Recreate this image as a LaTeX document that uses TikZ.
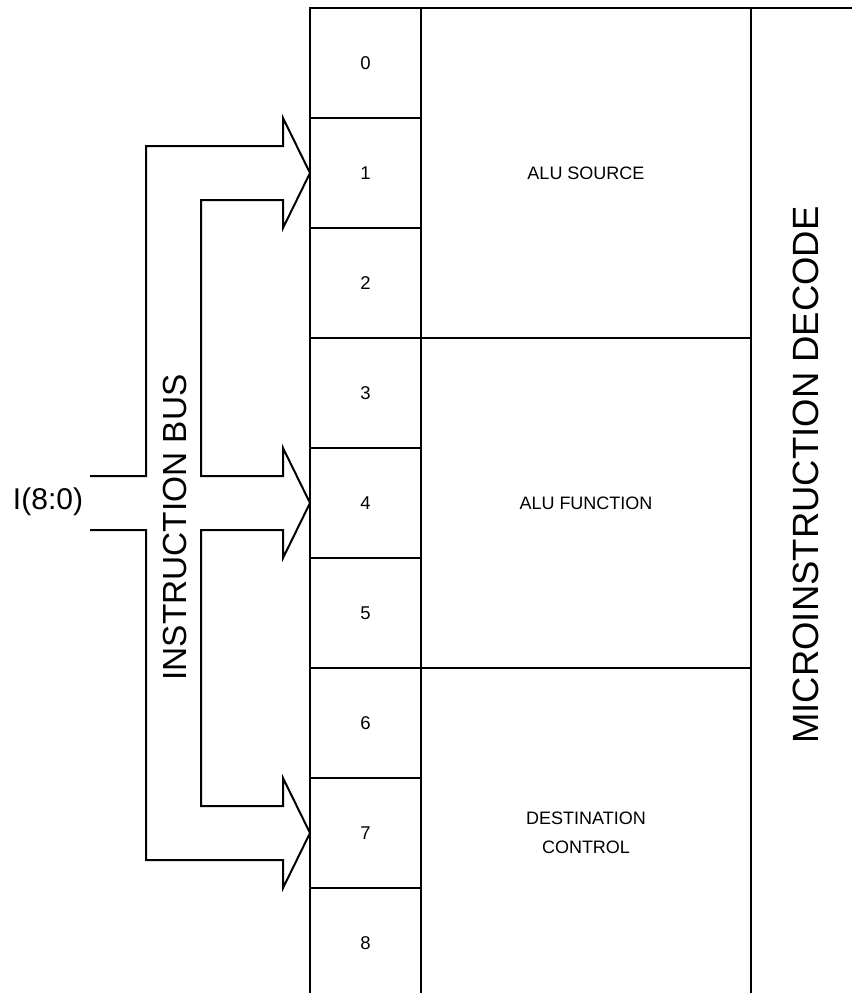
\documentclass[tikz,border=0pt]{standalone}
\usepackage{fontspec}
\setmainfont{Liberation Sans}
\begin{document}
\begin{tikzpicture}[x=1pt,y=-1pt,line width=2pt,
  cell/.style={draw, minimum width=111pt, minimum height=110pt, inner sep=0pt, outer sep=0pt, font=\fontsize{18.5}{22}\selectfont},
  section/.style={draw, minimum width=330pt, minimum height=330pt, inner sep=0pt, outer sep=0pt, align=center, font=\fontsize{18}{29}\selectfont},
  biglabel/.style={inner sep=0pt, font=\fontsize{36.5}{42}\selectfont},
  buslabel/.style={inner sep=0pt, font=\fontsize{33.4}{38}\selectfont},
  bus/.style={draw, line join=miter}]
\useasboundingbox (0,0) rectangle (852,993);
\clip (0,0) rectangle (852,993);
% sections
\node[section] (src) at (586,173) {ALU SOURCE};
\node[section] (fun) at (586,503) {ALU FUNCTION};
\node[section] (dst) at (586,833) {DESTINATION\\CONTROL};
% cells
\foreach \i in {0,...,8}
  \node[cell] (c\i) at (365.5,{63+110*\i}) {\i};
% right column top edge
\coordinate (tl) at (751,8);
\coordinate (tr) at (852,8);
\draw (tl) -- (tr);
\node[biglabel, rotate=90] (mdec) at (806,475) {MICROINSTRUCTION DECODE};
% instruction bus
\draw[bus] (90,476) -- (146,476) -- (146,146) -- (283,146) -- (283,118)
  -- (c1.west) -- (283,228) -- (283,200) -- (201,200) -- (201,476)
  -- (283,476) -- (283,448) -- (c4.west) -- (283,558) -- (283,530)
  -- (201,530) -- (201,806) -- (283,806) -- (283,778) -- (c7.west)
  -- (283,888) -- (283,860) -- (146,860) -- (146,530) -- (90,530);
\node[buslabel, rotate=90] (ibus) at (175,527.5) {INSTRUCTION BUS};
\node[inner sep=0pt, font=\fontsize{30}{34}\selectfont] (iin) at (48,502) {I(8:0)};
\end{tikzpicture}
\end{document}
